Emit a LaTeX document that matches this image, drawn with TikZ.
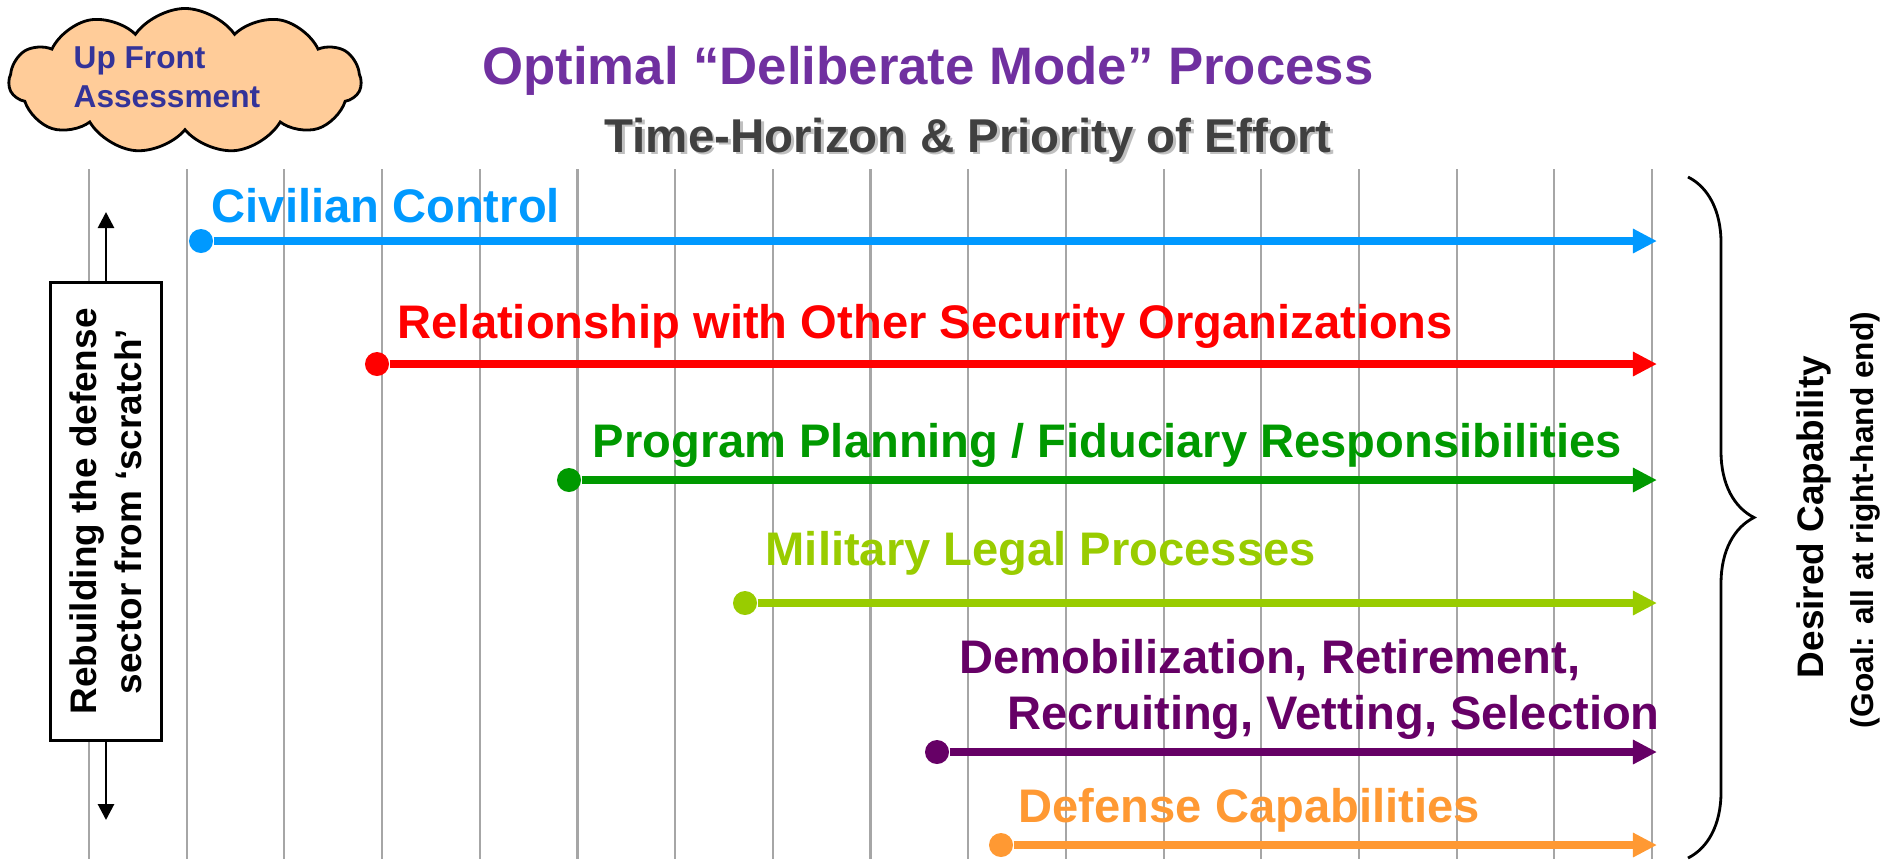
\documentclass[tikz,border=0pt]{standalone}
\usepackage{fontspec}
\setmainfont{Liberation Sans}
\usepackage{tikz}
\usetikzlibrary{arrows.meta,shapes.symbols,decorations.pathreplacing}

\definecolor{civblue}{HTML}{0099FF}
\definecolor{relred}{HTML}{FF0000}
\definecolor{proggreen}{HTML}{009900}
\definecolor{legalgreen}{HTML}{99CC00}
\definecolor{demobpurple}{HTML}{660066}
\definecolor{capsorange}{HTML}{FF9933}
\definecolor{titlepurple}{HTML}{7030A0}
\definecolor{subgray}{HTML}{404040}
\definecolor{shadowgray}{HTML}{C0C0C0}
\definecolor{cloudfill}{HTML}{FFCC99}
\definecolor{cloudtext}{HTML}{333399}
\definecolor{gridgray}{HTML}{A6A6A6}

\newcommand{\shadowed}[1]{\rlap{\kern0.8pt\raisebox{-0.8pt}{\color{shadowgray}#1}}#1}

\begin{document}
\begin{tikzpicture}[x=0.01cm,y=-0.01cm,>={Triangle[length=0.24cm,width=0.23cm]},
  gridline/.style={gridgray,line width=0.6pt},
  track/.style={->,line width=0.08cm},
  startdot/.style={circle,inner sep=0pt,minimum size=0.24cm},
  tracklabel/.style={anchor=base west,inner sep=0pt,font=\fontsize{13.4}{16}\selectfont\bfseries},
  thinarrow/.style={-{Triangle[length=0.16cm,width=0.16cm]},line width=0.8pt}]
  \useasboundingbox (0,0) rectangle (1902,859);

  % time grid
  \foreach \i in {0,...,16}
    \draw[gridline] ({89+97.69*\i},169) -- ({89+97.69*\i},859);

  % heading
  \node[cloud,cloud puffs=11,cloud puff arc=110,draw,line width=0.8pt,fill=cloudfill,
    minimum width=3.52cm,minimum height=1.45cm] (upfront) at (185,81) {};
  \node[anchor=west,inner sep=0pt,align=left,text=cloudtext,
    font=\fontsize{9}{11}\selectfont\bfseries] (upfront-text) at (73,77) {Up Front\\Assessment};
  \node[anchor=base,inner sep=0pt,text=titlepurple,
    font=\fontsize{15}{18}\selectfont\bfseries] (title) at (928,84) {Optimal “Deliberate Mode” Process};
  \node[anchor=base,inner sep=0pt,text=subgray,
    font=\fontsize{13.5}{16}\selectfont\bfseries] (subtitle) at (968,152) {\shadowed{Time-Horizon \& Priority of Effort}};

  % left box
  \node[draw,fill=white,line width=0.8pt,rotate=90,minimum width=4.57cm,minimum height=1.11cm,align=center,
    font=\fontsize{10.5}{12.8}\selectfont\bfseries] (rebuild) at (106,511.5)
    {Rebuilding the defense\\sector from ‘scratch’};
  \coordinate (rebuild-top) at (106,212);
  \coordinate (rebuild-bot) at (106,820);
  \draw[thinarrow] (rebuild) -- (rebuild-top);
  \draw[thinarrow] (rebuild) -- (rebuild-bot);

  % tracks
  \node[startdot,fill=civblue] (civ-s) at (201,241) {};
  \coordinate (civ-e) at (1657,241);
  \draw[track,civblue] (civ-s) -- (civ-e);
  \node[tracklabel,text=civblue] (civ) at (211,222) {Civilian Control};

  \node[startdot,fill=relred] (rel-s) at (377,364) {};
  \coordinate (rel-e) at (1657,364);
  \draw[track,relred] (rel-s) -- (rel-e);
  \node[tracklabel,text=relred] (rel) at (397,338) {Relationship with Other Security Organizations};

  \node[startdot,fill=proggreen] (prog-s) at (569,480) {};
  \coordinate (prog-e) at (1657,480);
  \draw[track,proggreen] (prog-s) -- (prog-e);
  \node[tracklabel,text=proggreen] (prog) at (592,457) {Program Planning / Fiduciary Responsibilities};

  \node[startdot,fill=legalgreen] (legal-s) at (745,603) {};
  \coordinate (legal-e) at (1657,603);
  \draw[track,legalgreen] (legal-s) -- (legal-e);
  \node[tracklabel,text=legalgreen] (legal) at (765,565) {Military Legal Processes};

  \node[startdot,fill=demobpurple] (demob-s) at (937,752) {};
  \coordinate (demob-e) at (1657,752);
  \draw[track,demobpurple] (demob-s) -- (demob-e);
  \node[tracklabel,text=demobpurple] (demob) at (959,673) {Demobilization, Retirement,};
  \node[tracklabel,text=demobpurple] (recruit) at (1007,729) {Recruiting, Vetting, Selection};

  \node[startdot,fill=capsorange] (caps-s) at (1001,845) {};
  \coordinate (caps-e) at (1657,845);
  \draw[track,capsorange] (caps-s) -- (caps-e);
  \node[tracklabel,text=capsorange] (caps) at (1018,822) {Defense Capabilities};

  % goal brace
  \coordinate (brace-top) at (1688,177);
  \coordinate (brace-bot) at (1688,858);
  \draw[decorate,decoration={brace,amplitude=0.66cm},line width=0.8pt] (brace-top) -- (brace-bot);
  \node[rotate=90,anchor=base,inner sep=0pt,font=\fontsize{10.5}{12}\selectfont\bfseries] (goal) at (1823,517) {Desired Capability};
  \node[rotate=90,anchor=base,inner sep=0pt,font=\fontsize{9}{11}\selectfont\bfseries] (goal-note) at (1873,520) {(Goal: all at right-hand end)};
\end{tikzpicture}
\end{document}
